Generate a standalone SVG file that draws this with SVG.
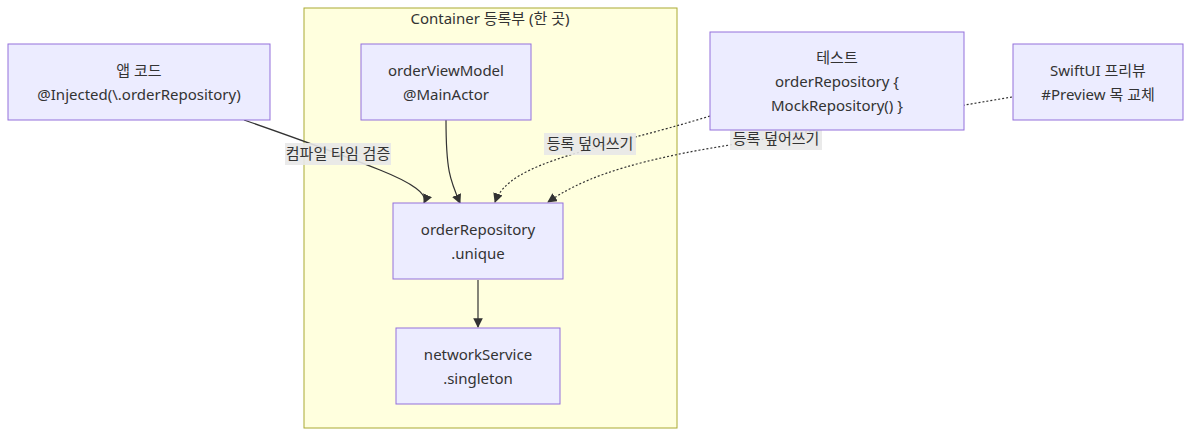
<svg xmlns="http://www.w3.org/2000/svg" width="1200" height="440" viewBox="0 0 1200 440">
<style>
.n{fill:#ececff;stroke:#9370db;stroke-width:1}
.t{font-family:"Noto Sans","Noto Sans CJK KR",sans-serif;font-size:15px;fill:#333;text-anchor:middle}
.e{fill:none;stroke:#333;stroke-width:1.2}
.d{fill:none;stroke:#333;stroke-width:1.2;stroke-dasharray:2 2}
.lb{fill:#e8e8e8;opacity:0.9}
</style>
<defs><marker id="a" viewBox="0 0 10 10" refX="9" refY="5" markerWidth="8" markerHeight="8" orient="auto"><path d="M0,0L10,5L0,10z" fill="#333"/></marker></defs>
<g id="container"><rect x="304" y="8" width="373" height="420" fill="#ffffde" stroke="#aaaa33"/><text class="t" x="490" y="24">Container 등록부 (한 곳)</text></g>
<g id="edges">
<path class="e" d="M244,120 Q330,150 380,170 T424,203" marker-end="url(#a)"/>
<path class="e" d="M446,120 C446,170 450,180 460,203" marker-end="url(#a)"/>
<path class="e" d="M478,280 L478,327" marker-end="url(#a)"/>
<path class="d" d="M710,116 C600,150 510,160 495,202" marker-end="url(#a)"/>
<path class="d" d="M1012,97 L700,150 C620,165 580,180 548,202" marker-end="url(#a)"/>
<rect class="lb" x="285" y="143" width="106" height="22"/><text class="t" x="338" y="159">컴파일 타임 검증</text>
<rect class="lb" x="544" y="133" width="92" height="22"/><text class="t" x="590" y="149">등록 덮어쓰기</text>
<rect class="lb" x="730" y="128" width="92" height="22"/><text class="t" x="776" y="144">등록 덮어쓰기</text>
</g>
<g id="app"><rect class="n" x="8" y="44" width="262" height="76"/><text class="t" x="139" y="76">앱 코드</text><text class="t" x="139" y="100">@Injected(\.orderRepository)</text></g>
<g id="vm"><rect class="n" x="361" y="44" width="170" height="76"/><text class="t" x="446" y="76">orderViewModel</text><text class="t" x="446" y="100">@MainActor</text></g>
<g id="test"><rect class="n" x="710" y="32" width="254" height="98"/><text class="t" x="837" y="63">테스트</text><text class="t" x="837" y="87">orderRepository {</text><text class="t" x="837" y="111">MockRepository() }</text></g>
<g id="preview"><rect class="n" x="1013" y="44" width="170" height="76"/><text class="t" x="1098" y="76">SwiftUI 프리뷰</text><text class="t" x="1098" y="100">#Preview 목 교체</text></g>
<g id="repo"><rect class="n" x="393" y="203" width="170" height="76"/><text class="t" x="478" y="235">orderRepository</text><text class="t" x="478" y="259">.unique</text></g>
<g id="net"><rect class="n" x="396" y="328" width="164" height="76"/><text class="t" x="478" y="360">networkService</text><text class="t" x="478" y="384">.singleton</text></g>
</svg>
